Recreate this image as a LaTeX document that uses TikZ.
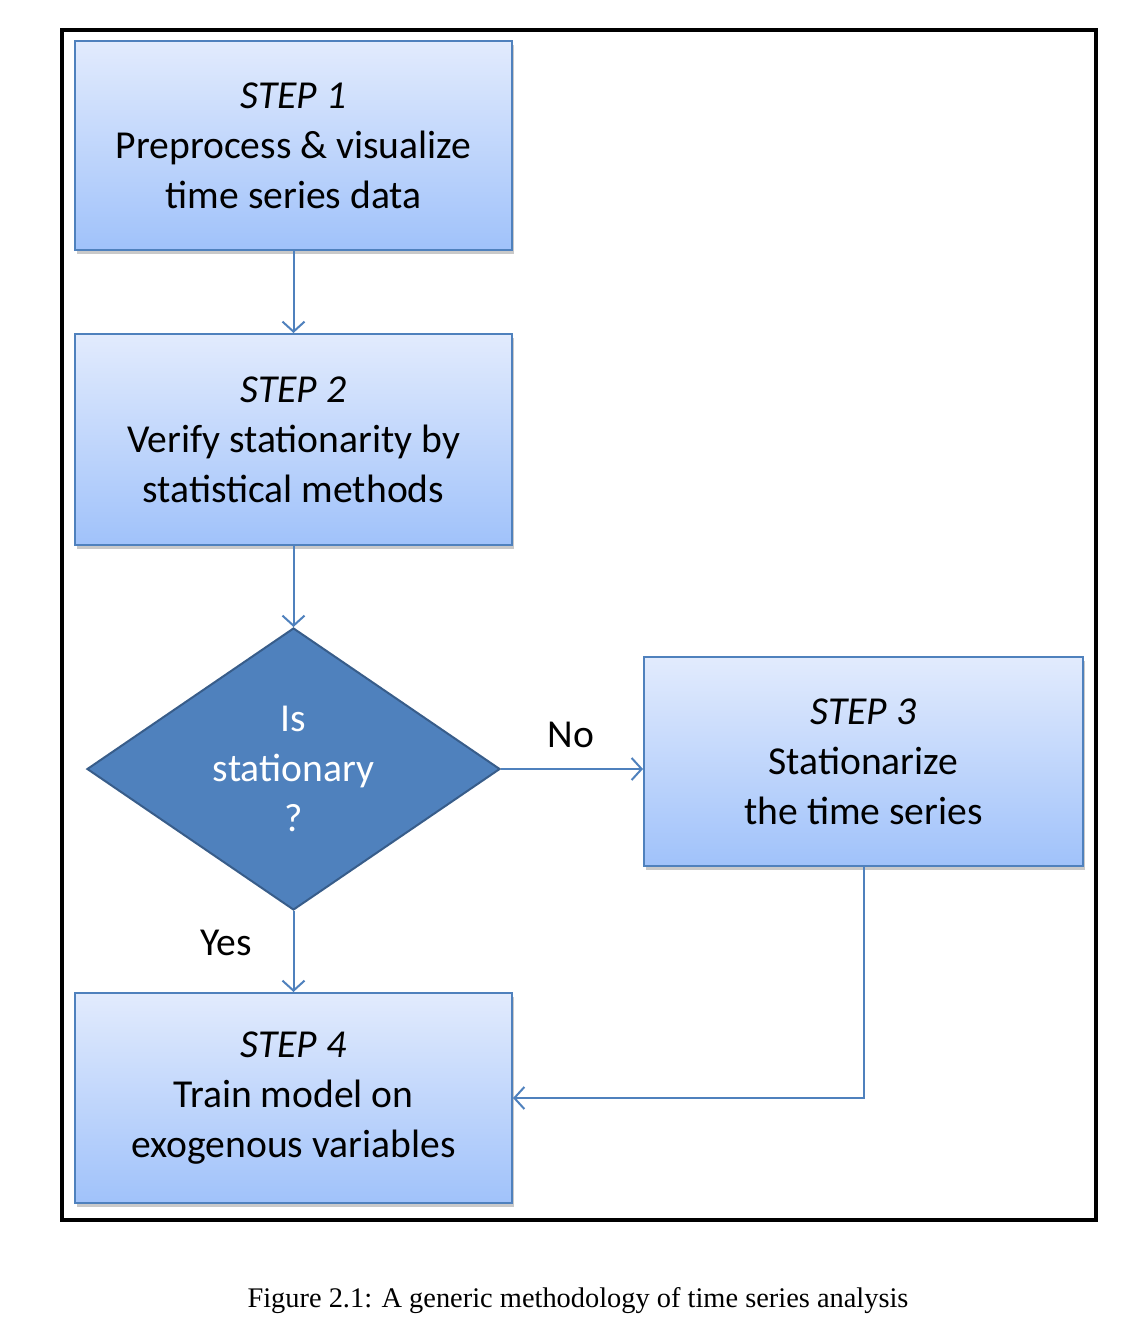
\documentclass[tikz,border=0pt]{standalone}
\usepackage{fontspec}
\setmainfont{Carlito}
\newfontfamily\capfont{Liberation Serif}
\usetikzlibrary{arrows.meta,shapes.geometric,shadows}
\definecolor{lineblue}{RGB}{79,129,189}
\definecolor{boxtop}{RGB}{226,235,253}
\definecolor{boxbot}{RGB}{160,194,250}
\definecolor{diafill}{RGB}{79,129,189}
\definecolor{diaedge}{RGB}{56,93,138}
\tikzset{
  stepbox/.style={draw=lineblue, line width=1pt, top color=boxtop, bottom color=boxbot,
    align=center, inner sep=0pt, font=\fontsize{19.8pt}{25pt}\selectfont,
    drop shadow={shadow xshift=1pt, shadow yshift=-2pt, opacity=0.35, fill=black!60}},
  decision/.style={diamond, draw=diaedge, line width=1pt, fill=diafill, inner sep=0pt, aspect=1.46},
  flow/.style={draw=lineblue, line width=1pt, -{Straight Barb[length=5pt,width=11pt,line width=1pt]}},
  lbl/.style={font=\fontsize{19.8pt}{25pt}\selectfont, inner sep=0pt},
}
\begin{document}
\begin{tikzpicture}[x=0.5pt,y=-0.5pt]
\useasboundingbox (0,0) rectangle (1132,1338);
\fill[white] (0,0) rectangle (1132,1338);
\draw[line width=2pt] (62,30) rectangle (1096,1220);

\node[stepbox, minimum width=218.5pt, minimum height=104.5pt] (s1) at (293.5,145.5)
  {\textit{STEP 1}\\Preprocess \& visualize\\time series data};
\node[stepbox, minimum width=218.5pt, minimum height=105.5pt] (s2) at (293.5,439.5)
  {\textit{STEP 2}\\Verify stationarity by\\statistical methods};
\node[decision, minimum width=206.5pt, minimum height=141pt,
  label={[text=white, align=center, font=\fontsize{19.8pt}{25pt}\selectfont]center:Is\\stationary\\?}] (d) at (293.5,769) {};
\node[stepbox, minimum width=219.5pt, minimum height=104.5pt] (s3) at (863.5,761.5)
  {\textit{STEP 3}\\Stationarize\\the time series};
\node[stepbox, minimum width=218.5pt, minimum height=105pt] (s4) at (293.5,1098)
  {\textit{STEP 4}\\Train model on\\exogenous variables};

\coordinate (corner) at (s3.south |- s4.east);
\draw[flow] (s1) -- (s2);
\draw[flow] (s2) -- (d.north);
\draw[flow] (d.east) -- (s3.west |- d.east);
\draw[flow] (d.south) -- (s4);
\draw[flow] (s3.south) -- (corner) -- (s4.east);

\node[lbl] (no) at (571,735) {No};
\node[lbl] (yes) at (226,943) {Yes};
\node[font=\capfont\fontsize{14.2pt}{16pt}\selectfont, inner sep=0pt] (cap) at (578,1301)
  {Figure 2.1: A generic methodology of time series analysis};
\end{tikzpicture}
\end{document}
